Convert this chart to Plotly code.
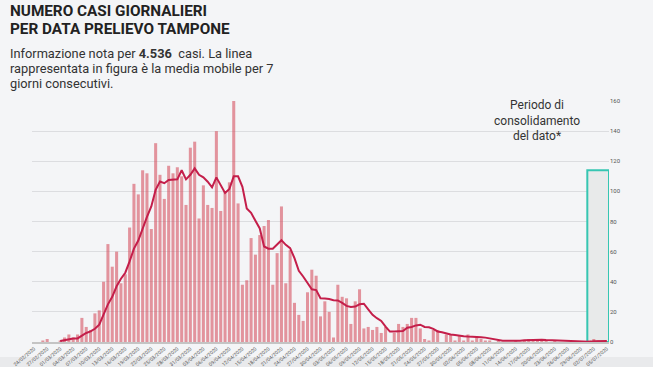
import datetime as dt
import plotly.graph_objects as go

# ---- data -------------------------------------------------------------
start = dt.date(2020, 2, 24)
cases = [0, 0, 1, 2, 0, 0, 1, 3, 5, 3, 5, 16, 10, 8, 19, 21, 40, 65, 50, 60,
         39, 45, 76, 105, 98, 114, 112, 75, 132, 111, 95, 117, 112, 116, 110, 91,
         129, 133, 82, 104, 91, 89, 140, 87, 100, 106, 160, 92, 38, 41, 69, 58,
         71, 77, 81, 38, 59, 90, 39, 61, 26, 18, 14, 33, 48, 44, 17, 27, 20, 3,
         38, 30, 29, 12, 27, 35, 9, 10, 8, 10, 6, 10, 0, 6, 12, 10, 12, 16, 16,
         9, 2, 1, 8, 8, 0, 5, 5, 1, 4, 1, 5, 1, 4, 2, 1, 1, 0, 1, 0, 0, 0, 1,
         0, 1, 2, 1, 2, 1, 1, 0, 1, 0, 0, 0, 0, 0, 0, 0, 1, 2, 1, 0, 0]
# 7-day moving average (starts on 01/03/2020)
mm_start = 6
moving_avg = [0.6, 1.3, 2, 2.3, 2.4, 4.4, 6, 7, 8.8, 11.5, 18, 25, 30, 37, 42,
              46, 53.5, 62, 67.4, 75.6, 83, 90, 101, 106.5, 105.4, 107.6, 107.6,
              108, 114, 108, 111, 115.3, 111, 109.3, 106.4, 102.7, 109.3, 104.2,
              99, 101.6, 110, 110, 103, 88.7, 85.8, 80.5, 75.4, 63.4, 61.9, 61.9,
              64.5, 67.6, 64.5, 62.3, 55.7, 47.3, 43.5, 39.5, 35, 34.5, 29, 28.8,
              28.5, 27.7, 27.6, 26, 24, 23.3, 23.5, 25, 25.4, 21.7, 18, 15.8, 14,
              10.2, 6.9, 6.9, 7, 7.3, 9.5, 10, 11, 11.5, 10, 9.8, 8.7, 7, 6.5,
              5.5, 5, 4.7, 4, 3.8, 3.6, 3.6, 3.6, 3.2, 2.9, 2.3, 1.8, 1.3, 0.9,
              0.8, 0.7, 0.8, 0.9, 1.1, 1.3, 1.5, 1.6, 1.5, 1.3, 1.2, 1.1, 0.9,
              0.7, 0.5, 0.4, 0.3, 0.2, 0.2, 0.2, 0.5, 0.6, 0.7, 0.7]
consolidation_days = 5
consolidation_top = 114
y_ticks = [0, 20, 40, 60, 80, 100, 120, 140, 160]

title_lines = ["NUMERO CASI GIORNALIERI", "PER DATA PRELIEVO TAMPONE"]
subtitle_lines = ["Informazione nota per <b>4.536</b>&nbsp; casi. La linea",
                  "rappresentata in figura è la media mobile per 7",
                  "giorni consecutivi."]
note_text = "Periodo di<br>consolidamento<br>del dato*"

dates = [(start + dt.timedelta(days=i)).strftime("%d/%m/%Y") for i in range(len(cases))]
mm_dates = dates[mm_start:mm_start + len(moving_avg)]
tick_vals = dates[::3]

# ---- geometry helpers (pixels -> paper) -------------------------------
W, H = 653, 367
L, R, T, B = 32, 44, 101, 25
pw, ph = W - L - R, H - T - B
def px(x):
    return (x - L) / pw
def py(y):
    return (H - B - y) / ph

fig = go.Figure()
fig.add_trace(go.Bar(x=dates, y=cases, marker_color="rgba(214,82,96,0.6)",
                     marker_line_width=0, hoverinfo="x+y"))
fig.add_trace(go.Scatter(x=mm_dates, y=moving_avg, mode="lines",
                         line=dict(color="#c41e4a", width=2)))

n = len(cases)
fig.add_shape(type="rect", xref="x", yref="y",
              x0=n - consolidation_days - 0.5, x1=n - 0.5,
              y0=0, y1=consolidation_top,
              fillcolor="#e8eaea", line=dict(color="#36c6b2", width=2),
              layer="between")
fig.add_shape(type="rect", xref="paper", yref="paper",
              x0=px(0), x1=px(W), y0=py(H), y1=py(357),
              fillcolor="#e9eaec", line_width=0, layer="below")

annos = []
for i, t in enumerate(title_lines):
    annos.append(dict(x=px(9), y=py(11 + 18 * i), xanchor="left", yanchor="middle",
                      align="left", text="<b>" + t + "</b>",
                      font=dict(family="Roboto", size=15.3, color="#222222")))
for i, t in enumerate(subtitle_lines):
    annos.append(dict(x=px(9), y=py(53 + 15 * i), xanchor="left", yanchor="middle",
                      align="left", text=t,
                      font=dict(family="Roboto", size=12.8, color="#333333")))
annos.append(dict(x=px(537), y=py(97), xanchor="center", yanchor="top", align="center",
                  text=note_text,
                  font=dict(family="Roboto", size=12, color="#333333")))
for a in annos:
    a.update(xref="paper", yref="paper", showarrow=False, borderpad=0)

fig.update_layout(
    width=W, height=H, margin=dict(l=L, r=R, t=T, b=B),
    paper_bgcolor="#f4f5f7", plot_bgcolor="#f4f5f7",
    showlegend=False, bargap=0.3, annotations=annos,
    xaxis=dict(type="category", tickvals=tick_vals, ticktext=tick_vals,
               tickangle=-40, tickfont=dict(size=5, color="#555555",
                                            family="Roboto"),
               showgrid=False, showline=True, linecolor="#c4c4c4", linewidth=2,
               ticks="", range=[-0.5, n - 0.5], automargin=False),
    yaxis=dict(side="right", range=[0, 160], tickvals=y_ticks,
               gridcolor="#dcdde0", gridwidth=1, zeroline=False,
               tickfont=dict(size=6, color="#555555", family="Roboto"),
               ticks="", automargin=False),
)

fig.write_html("out.html", config={"displayModeBar": False},
               post_script="document.body.style.margin='0';"
                           "document.body.style.overflow='hidden';")
